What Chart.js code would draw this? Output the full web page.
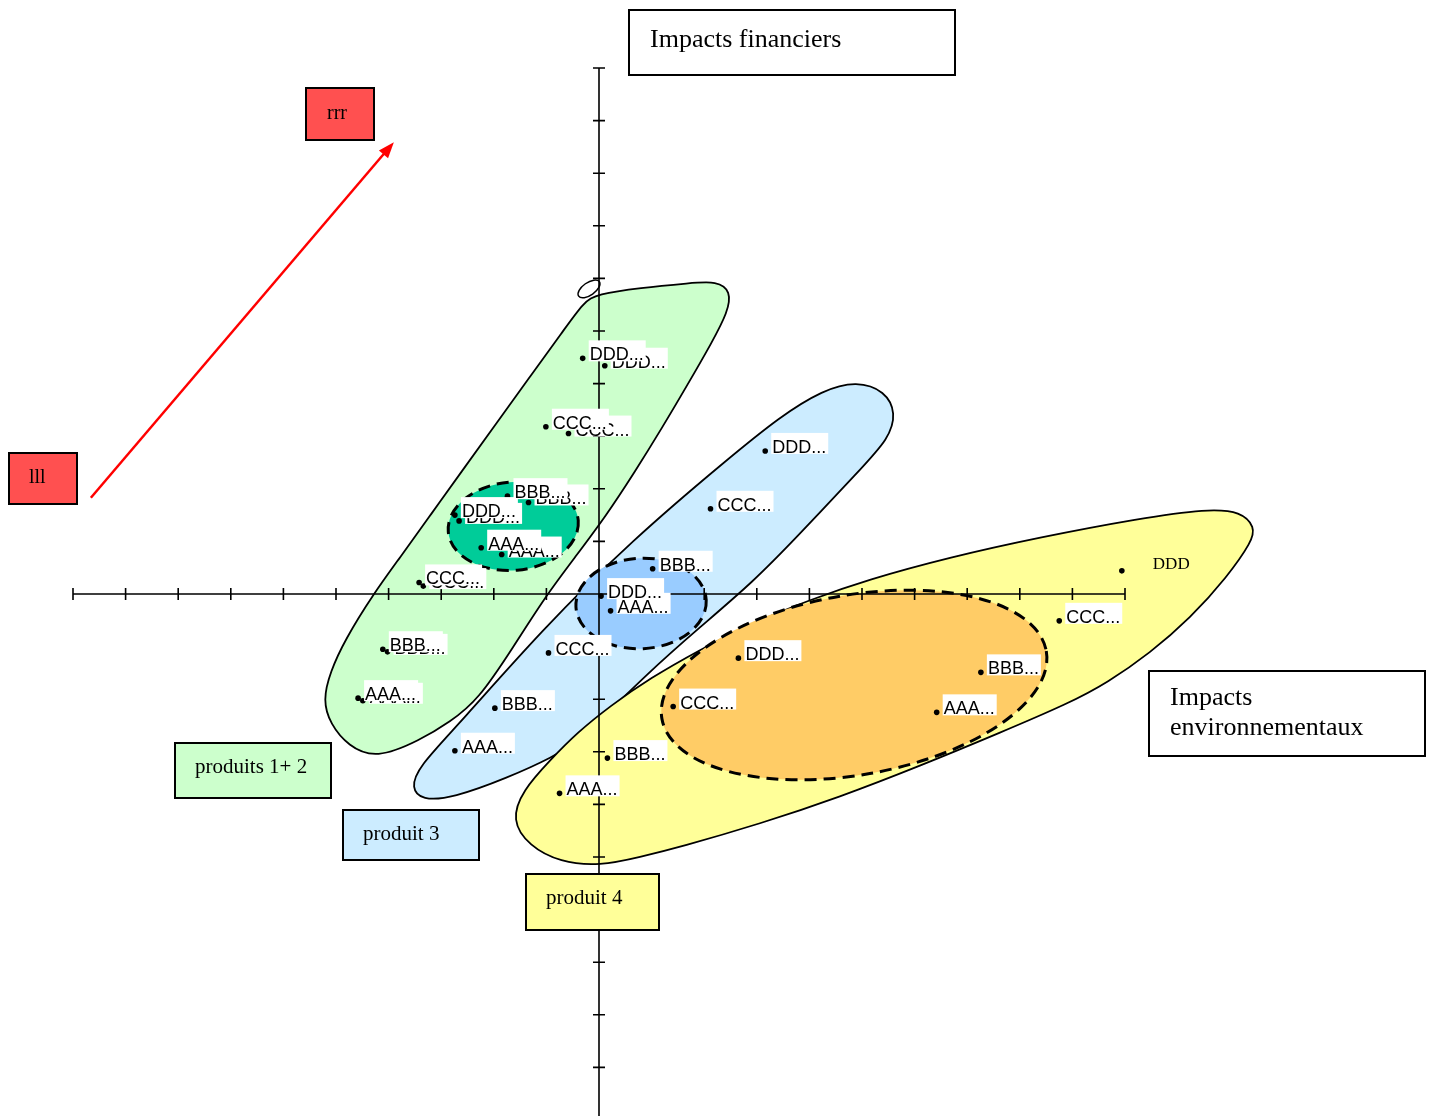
<!DOCTYPE html>
<html>
<head>
<meta charset="utf-8">
<script src="https://cdn.jsdelivr.net/npm/chart.js@4.4.1/dist/chart.umd.min.js"></script>
<style>
  html, body { margin: 0; padding: 0; background: #fff; }
  #wrap { width: 1432px; height: 1116px; overflow: hidden; position: relative; }
</style>
</head>
<body>
<div id="wrap"><canvas id="chart" width="1432" height="1124"></canvas></div>
<script>
// libellés des points (même ordre pour chaque produit)
const pointLabels = ['DDD...', 'CCC...', 'BBB...', 'DDD...', 'AAA...', 'CCC...', 'BBB...', 'AAA...'];
const produit4Labels = ['DDD', 'CCC...', 'BBB...', 'DDD...', 'AAA...', 'CCC...', 'BBB...', 'AAA...'];

// impacts environnementaux (x) / financiers (y)
const produit1X = [-0.31, -1.01, -1.74, -2.74, -2.24, -3.42, -4.11, -4.58];
const produit1Y = [4.48, 3.18, 1.86, 1.50, 0.88, 0.22, -1.05, -1.98];
const produit2X = [0.11, -0.58, -1.34, -2.66, -1.85, -3.34, -4.02, -4.49];
const produit2Y = [4.34, 3.05, 1.74, 1.39, 0.75, 0.15, -1.10, -2.03];
const produit3X = [3.16, 2.12, 1.02, 0.04, 0.22, -0.96, -1.98, -2.74];
const produit3Y = [2.72, 1.62, 0.48, -0.04, -0.32, -1.12, -2.17, -2.98];
const produit4X = [9.94, 8.75, 7.26, 2.65, 6.42, 1.41, 0.16, -0.75];
const produit4Y = [0.44, -0.51, -1.49, -1.22, -2.25, -2.14, -3.12, -3.79];

// graduations des deux axes
const tickValues = [-10, -9, -8, -7, -6, -5, -4, -3, -2, -1, 0, 1, 2, 3, 4, 5, 6, 7, 8, 9, 10];

// zones (points de contrôle en unités du graphique)
const zoneProduits12 = [
  [-0.04, 5.70], [0.78, 5.82], [1.73, 5.91], [2.24, 5.95], [2.51, 5.76], [2.45, 5.36],
  [2.15, 4.79], [1.69, 3.99], [1.20, 3.16], [0.68, 2.32], [0.13, 1.48], [-0.44, 0.72],
  [-1.03, -0.06], [-1.63, -1.01], [-2.30, -2.02], [-2.83, -2.43], [-3.40, -2.78],
  [-4.24, -3.14], [-4.77, -2.89], [-5.11, -2.47], [-5.25, -2.02], [-5.11, -1.48],
  [-4.83, -0.87], [-4.29, 0.00], [-3.80, 0.67], [-3.19, 1.52], [-2.59, 2.36],
  [-1.96, 3.23], [-1.33, 4.11], [-0.68, 5.00], [-0.29, 5.55]
];
const zoneProduit3 = [
  [4.90, 4.05], [5.44, 3.86], [5.65, 3.44], [5.51, 2.95], [4.96, 2.36], [3.76, 1.08],
  [2.93, 0.23], [1.92, -0.63], [0.97, -1.46], [-0.36, -2.78], [-0.87, -3.10], [-1.75, -3.50],
  [-2.78, -3.88], [-3.37, -3.92], [-3.57, -3.69], [-3.44, -3.29], [-2.64, -2.45],
  [-1.12, -0.72], [0.63, 1.03], [2.49, 2.60], [3.44, 3.37], [4.26, 3.88]
];
const zoneProduit4 = [
  [11.56, 1.62], [12.21, 1.57], [12.47, 1.27], [12.42, 1.01], [11.94, 0.32], [11.24, -0.46],
  [10.48, -1.12], [9.66, -1.69], [8.95, -2.07], [7.62, -2.64], [6.10, -3.27], [4.58, -3.86],
  [3.06, -4.37], [1.54, -4.81], [0.78, -5.00], [0.02, -5.17], [-0.74, -5.10], [-1.33, -4.79],
  [-1.67, -4.30], [-1.45, -3.73], [-0.93, -3.16], [-0.42, -2.64], [0.21, -2.13], [0.97, -1.60],
  [1.92, -1.06], [2.87, -0.57], [4.01, -0.11], [5.10, 0.27], [6.67, 0.70], [8.38, 1.08],
  [10.29, 1.44]
];

const zones = [
  { pts: zoneProduits12, fill: '#CCFFCC' },
  { pts: zoneProduit3, fill: '#CCECFF' },
  { pts: zoneProduit4, fill: '#FFFF99' }
];

// ellipses en pointillés : centre, rayons, rotation (degrés)
const groupes = [
  { c: [-1.63, 1.29], rx: 1.24, ry: 0.84, rot: -5, fill: '#00CC99' },
  { c: [0.80, -0.18], rx: 1.24, ry: 0.86, rot: -3, fill: '#99CCFF' },
  { c: [4.85, -1.73], rx: 3.71, ry: 1.71, rot: -10, fill: '#FFCC66' }
];

// B-spline fermée (lisse) passant près des points de contrôle
function closedBSpline(ctx, pts) {
  const n = pts.length;
  const P = function (i) { return pts[(i + n) % n]; };
  ctx.beginPath();
  for (let i = 0; i < n; i++) {
    const a = P(i - 1), b = P(i), c = P(i + 1), d = P(i + 2);
    const sx = (a[0] + 4 * b[0] + c[0]) / 6, sy = (a[1] + 4 * b[1] + c[1]) / 6;
    if (i === 0) ctx.moveTo(sx, sy);
    ctx.bezierCurveTo(
      (2 * b[0] + c[0]) / 3, (2 * b[1] + c[1]) / 3,
      (b[0] + 2 * c[0]) / 3, (b[1] + 2 * c[1]) / 3,
      (b[0] + 4 * c[0] + d[0]) / 6, (b[1] + 4 * c[1] + d[1]) / 6);
  }
  ctx.closePath();
}

function textBox(ctx, x, y, w, h, fill, lines, tx, ty, size, lh) {
  ctx.fillStyle = fill;
  ctx.fillRect(x, y, w, h);
  ctx.lineWidth = 2;
  ctx.strokeStyle = '#000';
  ctx.strokeRect(x, y, w, h);
  ctx.fillStyle = '#000';
  ctx.font = size + 'px "Liberation Serif", "Times New Roman", serif';
  ctx.textBaseline = 'alphabetic';
  ctx.textAlign = 'left';
  lines.forEach(function (l, i) { ctx.fillText(l, tx, ty + i * (lh || 0)); });
}

const decorPlugin = {
  id: 'decor',
  beforeDraw: function (chart) {
    const ctx = chart.ctx;
    ctx.save();
    ctx.fillStyle = '#fff';
    ctx.fillRect(0, 0, chart.width, chart.height);
    ctx.restore();
  },
  beforeDatasetsDraw: function (chart) {
    const ctx = chart.ctx, sx = chart.scales.x, sy = chart.scales.y;
    const px = function (p) { return [sx.getPixelForValue(p[0]), sy.getPixelForValue(p[1])]; };
    const unit = sx.getPixelForValue(1) - sx.getPixelForValue(0);
    ctx.save();

    // zones
    zones.forEach(function (z) {
      closedBSpline(ctx, z.pts.map(px));
      ctx.fillStyle = z.fill;
      ctx.fill();
      ctx.lineWidth = 1.8;
      ctx.strokeStyle = '#000';
      ctx.stroke();
    });
    // petite boucle en haut de la zone verte
    const b = px([-0.19, 5.80]);
    ctx.beginPath();
    ctx.ellipse(b[0], b[1], 0.24 * unit, 0.12 * unit, -35 * Math.PI / 180, 0, Math.PI * 2);
    ctx.lineWidth = 1.5;
    ctx.stroke();

    // ellipses pointillées
    groupes.forEach(function (g) {
      const c = px(g.c);
      ctx.beginPath();
      ctx.ellipse(c[0], c[1], g.rx * unit, g.ry * unit, g.rot * Math.PI / 180, 0, Math.PI * 2);
      ctx.fillStyle = g.fill;
      ctx.setLineDash([]);
      ctx.fill();
      ctx.setLineDash([12, 7]);
      ctx.lineWidth = 3;
      ctx.strokeStyle = '#000';
      ctx.stroke();
    });
    ctx.setLineDash([]);

    // axes croisés
    const x0 = sx.getPixelForValue(0), y0 = sy.getPixelForValue(0);
    ctx.strokeStyle = '#000';
    ctx.lineWidth = 1.6;
    ctx.beginPath();
    ctx.moveTo(sx.getPixelForValue(-10), y0);
    ctx.lineTo(sx.getPixelForValue(10), y0);
    ctx.moveTo(x0, sy.getPixelForValue(10));
    ctx.lineTo(x0, sy.getPixelForValue(-10));
    tickValues.forEach(function (t) {
      const tx = sx.getPixelForValue(t), ty = sy.getPixelForValue(t);
      ctx.moveTo(tx, y0 - 6); ctx.lineTo(tx, y0 + 6);
      ctx.moveTo(x0 - 6, ty); ctx.lineTo(x0 + 6, ty);
    });
    ctx.stroke();
    ctx.restore();
  },
  afterDatasetsDraw: function (chart) {
    const ctx = chart.ctx;
    ctx.save();
    // étiquettes dessinées en ordre inverse : les premières restent au-dessus
    for (let di = chart.data.datasets.length - 1; di >= 0; di--) {
      const ds = chart.data.datasets[di];
      const meta = chart.getDatasetMeta(di);
      for (let i = meta.data.length - 1; i >= 0; i--) {
        const pt = meta.data[i];
        const txt = ds.pointText[i];
        if (ds.plainFirst && i === 0) {
          ctx.font = '17px "Liberation Serif", serif';
          ctx.fillStyle = '#000';
          ctx.fillText(txt, pt.x + 31, pt.y - 2);
          continue;
        }
        ctx.font = '18px "Liberation Sans", Arial, sans-serif';
        const w = ctx.measureText(txt).width;
        ctx.fillStyle = '#fff';
        ctx.fillRect(pt.x + 6, pt.y - 18, w + 3, 21);
        ctx.fillStyle = '#000';
        ctx.fillText(txt, pt.x + 7, pt.y + 2);
      }
    }

    // flèche rouge
    const sx = chart.scales.x, sy = chart.scales.y;
    const ax = sx.getPixelForValue(-9.66), ay = sy.getPixelForValue(1.83);
    const bx = sx.getPixelForValue(-3.90), by = sy.getPixelForValue(8.59);
    const ang = Math.atan2(by - ay, bx - ax);
    ctx.strokeStyle = '#FF0000';
    ctx.fillStyle = '#FF0000';
    ctx.lineWidth = 2.5;
    ctx.beginPath();
    ctx.moveTo(ax, ay);
    ctx.lineTo(bx - 12 * Math.cos(ang), by - 12 * Math.sin(ang));
    ctx.stroke();
    ctx.beginPath();
    ctx.moveTo(bx, by);
    ctx.lineTo(bx - 16 * Math.cos(ang) + 6 * Math.sin(ang), by - 16 * Math.sin(ang) - 6 * Math.cos(ang));
    ctx.lineTo(bx - 16 * Math.cos(ang) - 6 * Math.sin(ang), by - 16 * Math.sin(ang) + 6 * Math.cos(ang));
    ctx.closePath();
    ctx.fill();

    // cadres de texte
    textBox(ctx, 629, 10, 326, 65, '#fff', ['Impacts financiers'], 650, 47, 26);
    textBox(ctx, 1149, 671, 276, 85, '#fff', ['Impacts', 'environnementaux'], 1170, 705, 26, 30);
    textBox(ctx, 306, 88, 68, 52, '#FF5050', ['rrr'], 327, 119, 20);
    textBox(ctx, 9, 453, 68, 51, '#FF5050', ['lll'], 29, 483, 20);
    textBox(ctx, 175, 743, 156, 55, '#CCFFCC', ['produits 1+ 2'], 195, 773, 21);
    textBox(ctx, 343, 810, 136, 50, '#CCECFF', ['produit 3'], 363, 840, 21);
    textBox(ctx, 526, 874, 133, 56, '#FFFF99', ['produit 4'], 546, 904, 21);
    ctx.restore();
  }
};

function serie(xs, ys, texts) {
  return {
    data: xs.map(function (x, i) { return { x: x, y: ys[i] }; }),
    pointText: texts,
    pointRadius: 2.8,
    pointBackgroundColor: '#000',
    pointBorderWidth: 0,
    showLine: false,
    clip: false
  };
}

const ds4 = serie(produit4X, produit4Y, produit4Labels);
ds4.plainFirst = true;

new Chart(document.getElementById('chart'), {
  type: 'scatter',
  data: {
    datasets: [
      serie(produit1X, produit1Y, pointLabels),
      serie(produit2X, produit2Y, pointLabels),
      serie(produit3X, produit3Y, pointLabels),
      ds4
    ]
  },
  options: {
    responsive: false,
    animation: false,
    devicePixelRatio: 1,
    layout: { padding: { left: 73, right: 307, top: 68, bottom: 4 } },
    scales: {
      x: { type: 'linear', min: -10, max: 10, display: false },
      y: { type: 'linear', min: -10, max: 10, display: false }
    },
    plugins: {
      legend: { display: false },
      tooltip: { enabled: false }
    }
  },
  plugins: [decorPlugin]
});
</script>
</body>
</html>
